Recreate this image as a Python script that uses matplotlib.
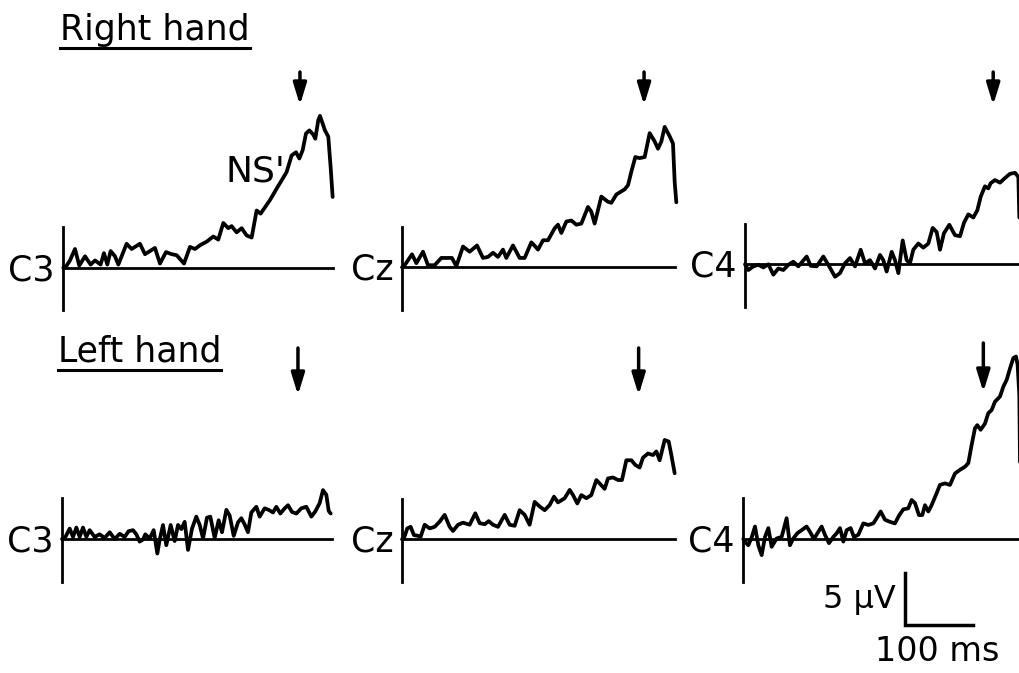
import matplotlib
matplotlib.use("Agg")
import matplotlib.pyplot as plt
from matplotlib import transforms
from matplotlib.lines import Line2D
from matplotlib.patches import ArrowStyle

# ---------------- data (time in ms from trace start, amplitude in uV, negativity up) ----------------
rh_c3_t = [0, 3.9, 9.8, 17.2, 23.5, 31.9, 40.2, 46.6, 54.9, 59.8, 64.7, 69.6, 76.0, 80.9, 93.1, 100.5,
           112.7, 120.1, 127.5, 134.8, 142.2, 151.0, 159.3, 166.7, 177.5, 186.3, 193.6, 202.0, 210.8,
           220.6, 227.9, 235.3, 242.6, 247.5, 254.9, 262.3, 269.6, 277.0, 284.3, 290.2, 303.9, 313.7,
           321.1, 328.4, 335.8, 342.2, 347.1, 352.0, 356.9, 361.8, 367.6, 370.6, 375.0, 377.5, 384.8,
           389.7, 393.1, 396.1]
rh_c3_v = [0, 0.1, 0.7, 1.8, 0.2, 1.1, 0.3, 0.7, 0.3, 1.4, 0.3, 1.6, 1.1, 0.3, 2.3, 1.8,
           2.3, 1.3, 1.6, 1.9, 0.4, 1.5, 1.3, 1.2, 0.4, 2.0, 1.8, 2.2, 2.5,
           3.0, 2.7, 4.3, 3.8, 4.0, 3.4, 3.8, 3.1, 2.9, 5.5, 5.2, 6.5, 7.6,
           8.4, 9.2, 10.8, 11.1, 10.5, 11.3, 12.9, 13.2, 12.8, 12.4, 14.2, 14.6, 13.2,
           12.6, 9.7, 6.8]

rh_cz_t = [0, 2.9, 14.7, 21.1, 30.9, 38.2, 48.0, 57.8, 67.6, 73.5, 79.9, 89.7, 99.5, 110.3, 119.1,
           126.5, 133.8, 141.2, 148.5, 153.4, 163.2, 173.0, 180.4, 190.2, 196.1, 200.0, 207.4, 214.7,
           224.5, 229.4, 234.3, 241.7, 249.0, 256.4, 263.7, 273.5, 278.4, 283.3, 293.1, 302.9, 307.8,
           315.2, 327.5, 332.4, 337.3, 343.1, 349.5, 356.9, 364.2, 371.6, 376.5, 381.4, 386.3, 393.6,
           398.5, 401.0, 403.4]
rh_cz_v = [0, 0.1, 1.25, 0.4, 1.5, 0.2, 0.2, 0.9, 0.9, 0.9, 0.1, 2.0, 1.5, 2.1, 0.9,
           1.0, 1.4, 1.0, 1.7, 0.9, 2.1, 0.9, 0.9, 2.4, 2.0, 1.7, 2.6, 2.6,
           3.75, 4.1, 3.3, 4.4, 4.5, 4.1, 4.2, 5.8, 5.35, 4.2, 6.8, 6.3, 6.2,
           7.0, 7.5, 7.9, 9.2, 10.6, 10.5, 10.6, 12.9, 12.1, 11.4, 12.1, 13.5, 12.6,
           11.9, 8.2, 6.25]

rh_c4_t = [0, 4.9, 12.3, 19.6, 27.0, 34.3, 41.7, 49.0, 56.4, 63.7, 71.1, 78.4, 90.7, 96.6, 105.4,
           115.2, 122.5, 132.4, 139.7, 147.1, 154.4, 161.8, 170.1, 176.5, 183.8, 191.2, 198.5, 203.4,
           208.3, 215.7, 220.6, 225.5, 231.9, 237.7, 242.6, 247.5, 254.9, 262.3, 269.6, 276.0, 281.9,
           286.8, 292.6, 300.5, 308.8, 316.2, 322.1, 328.4, 335.8, 341.7, 346.6, 352.9, 357.8, 361.3,
           367.6, 375.0, 382.4, 389.7, 397.1, 402.0, 403.4]
rh_c4_v = [0, -0.55, -0.2, -0.05, -0.3, 0.0, -1.0, -0.4, -0.55, -0.05, 0.25, -0.2, 0.75, -0.15, -0.2,
           0.75, -0.05, -1.2, -0.85, 0.1, 0.6, -0.2, 1.4, 0.1, 0.4, -0.4, 0.9, 0.4,
           -0.7, 1.2, 0.4, -0.85, 2.3, 0.4, 0.1, 1.4, 2.0, 1.6, 2.0, 3.5, 3.1,
           1.4, 3.0, 3.8, 2.8, 2.7, 4.0, 4.8, 4.5, 5.2, 6.5, 7.5, 7.3, 7.8,
           8.1, 7.85, 8.3, 8.7, 8.8, 8.4, 4.5]

lh_c3_t = [0, 3.9, 11.3, 16.2, 21.1, 26.0, 30.9, 35.8, 40.7, 48.0, 55.4, 62.7, 70.1, 77.5, 84.8, 92.2,
           98.0, 104.4, 109.3, 114.2, 119.1, 122.5, 128.9, 134.8, 140.2, 143.6, 148.5, 153.4, 159.8,
           165.7, 170.6, 175.5, 180.4, 185.3, 191.2, 197.5, 202.5, 207.4, 213.2, 218.1, 224.5, 230.4,
           235.3, 241.7, 246.6, 252.5, 258.8, 263.7, 268.6, 273.5, 278.4, 285.8, 290.7, 298.0, 303.9,
           310.3, 315.2, 321.1, 327.5, 332.4, 338.2, 344.6, 351.9, 359.3, 366.7, 372.5, 378.9, 383.8,
           388.7, 392.2, 395.1]
lh_c3_v = [0, 0.05, 1.0, 0.2, 1.1, 0.2, 1.1, 0.2, 0.85, 0.2, 0.45, 0.1, 0.65, 0.0, 0.5, 0.2,
           0.75, 0.85, 0.45, -0.25, -0.05, 0.45, 0.05, 0.85, -1.4, -0.1, 1.35, -0.6, 1.35,
           -0.2, 1.35, 0.95, 1.65, -1.05, 1.0, 2.15, 1.35, 0.05, 2.05, 2.15, 0.1, 1.8,
           0.65, 2.8, 2.25, 0.3, 1.6, 2.0, 1.4, 0.65, 2.55, 3.1, 2.15, 2.95, 2.8,
           2.55, 3.1, 2.45, 2.95, 3.25, 2.6, 2.45, 2.95, 3.1, 2.15, 2.65, 3.45, 4.7,
           4.25, 2.7, 2.45]

lh_cz_t = [0, 2.9, 7.8, 12.7, 17.6, 22.5, 27.5, 33.3, 40.7, 48.0, 55.4, 62.7, 70.1, 75.0, 82.4, 89.7,
           99.5, 107.8, 114.2, 121.6, 127.5, 133.8, 141.2, 151.0, 158.3, 165.7, 173.0, 180.4, 187.7,
           195.1, 202.5, 209.8, 217.2, 223.5, 229.4, 239.2, 246.6, 251.5, 257.8, 263.7, 271.1, 278.4,
           285.8, 293.1, 298.0, 302.9, 310.3, 317.6, 323.5, 329.9, 337.3, 343.1, 349.5, 354.4, 361.8,
           369.1, 374.0, 378.9, 386.3, 392.2, 396.1, 401.0]
lh_cz_v = [0, 0.1, 1.05, 1.2, 0.4, 0.35, 0.25, 1.4, 1.05, 1.2, 1.7, 2.35, 1.2, 0.8, 1.4, 1.6,
           1.4, 2.5, 1.55, 1.45, 1.75, 1.4, 1.2, 2.35, 1.4, 1.3, 2.8, 2.35, 1.4,
           3.6, 3.15, 2.8, 3.3, 4.1, 3.55, 3.95, 4.75, 4.25, 3.45, 4.25, 3.95, 4.25,
           5.7, 5.2, 4.85, 5.85, 5.95, 5.7, 5.7, 7.6, 7.6, 7.15, 6.9, 7.85, 8.25,
           8.1, 8.45, 7.6, 9.55, 9.4, 8.1, 6.35]

lh_c4_t = [0, 2.5, 7.4, 12.3, 17.2, 22.1, 27.0, 31.9, 36.8, 41.7, 49.0, 56.4, 63.7, 68.6, 73.5, 79.4,
           85.8, 93.1, 98.0, 103.9, 110.3, 115.2, 120.1, 126.0, 132.4, 137.3, 142.2, 147.1, 152.0,
           157.8, 162.7, 169.1, 176.5, 183.8, 191.2, 196.1, 202.0, 208.3, 215.7, 223.0, 229.4, 235.3,
           242.6, 247.5, 252.5, 258.3, 263.2, 267.2, 272.1, 276.9, 284.3, 289.2, 296.6, 303.9, 311.3,
           318.6, 326.0, 330.9, 335.8, 340.7, 344.1, 349.0, 355.4, 360.3, 365.2, 370.1, 377.5, 382.4,
           387.3, 392.2, 397.1, 401.0, 403.4, 405.9, 406.9]
lh_c4_v = [0, -0.25, -0.6, 0.15, 1.2, -0.6, -1.55, 0.2, 1.05, -0.75, 0.05, 0.2, 2.0, -0.6, 0.05, 0.55,
           0.85, 1.2, 0.7, 0.0, 0.7, 1.2, 0.4, -0.4, 0.2, 0.55, 1.05, -0.25, 0.85,
           1.05, 0.2, 0.4, 1.5, 1.35, 1.5, 2.0, 2.65, 1.85, 1.65, 1.5, 2.3, 2.85,
           2.95, 3.75, 3.45, 2.3, 2.3, 3.25, 2.65, 3.25, 4.4, 5.2, 5.35, 5.2, 6.3,
           6.65, 6.95, 7.3, 9.05, 10.65, 10.95, 10.5, 11.1, 12.1, 12.4, 13.2, 13.7, 14.65,
           15.3, 16.4, 17.4, 17.55, 16.75, 13.85, 7.4]

channels = ["C3", "Cz", "C4"]
conditions = ["Right hand", "Left hand"]
onset_ms = [[348, 356, 365], [347, 348, 353]]      # arrow (movement onset) per panel
baseline_end_ms = [[397, 401, 404], [397, 401, 407]]
traces = [[(rh_c3_t, rh_c3_v), (rh_cz_t, rh_cz_v), (rh_c4_t, rh_c4_v)],
          [(lh_c3_t, lh_c3_v), (lh_cz_t, lh_cz_v), (lh_c4_t, lh_c4_v)]]
scale_uv = 5
scale_ms = 100

# ---------------- layout ----------------
W, H = 1020, 673
PX_PER_MS = 0.68
PX_PER_UV = 10.4
origins = [[(63.3, 267.7), (402, 267.3), (745, 264.3)],
           [(62, 539), (402, 539.3), (743.3, 539)]]
arrow_px = [[(72, 105), (72, 105), (72, 105)],
            [(348, 395), (348, 395), (343, 392)]]
XL = (-20, 420)
YL = (-10, 20)
FONT = "DejaVu Sans"

fig = plt.figure(figsize=(W / 100, H / 100), dpi=100)
fig.patch.set_facecolor("white")

LW_TRACE = 2.7
LW_AXIS = 2.0

axes = []
for r in range(2):
    row = []
    for c in range(3):
        ox, oy = origins[r][c]
        left = (ox + XL[0] * PX_PER_MS) / W
        width = (XL[1] - XL[0]) * PX_PER_MS / W
        bottom = 1 - (oy - YL[0] * PX_PER_UV) / H
        height = (YL[1] - YL[0]) * PX_PER_UV / H
        ax = fig.add_axes([left, bottom, width, height])
        ax.set_xlim(*XL)
        ax.set_ylim(*YL)
        ax.set_axis_off()
        ax.patch.set_alpha(0)
        t, v = traces[r][c]
        ax.plot(t, v, color="black", lw=LW_TRACE, solid_joinstyle="round",
                solid_capstyle="round", clip_on=False)
        # baseline and vertical marker
        ax.plot([0, baseline_end_ms[r][c]], [0, 0], color="black", lw=LW_AXIS,
                clip_on=False)
        ax.plot([0, 0], [-4.1, 3.9], color="black", lw=LW_AXIS, clip_on=False)
        # channel label
        ax.text(-13, -0.25, channels[c], ha="right", va="center", fontsize=25,
                family=FONT, color="black")
        # movement onset arrow
        bt = transforms.blended_transform_factory(ax.transData, fig.transFigure)
        top_px, tip_px = arrow_px[r][c]
        ax.annotate("", xy=(onset_ms[r][c], 1 - tip_px / H),
                    xytext=(onset_ms[r][c], 1 - top_px / H),
                    xycoords=bt, textcoords=bt,
                    arrowprops=dict(arrowstyle=ArrowStyle("-|>", head_length=0.65,
                                                          head_width=0.2),
                                    mutation_scale=20, lw=2.5, color="black",
                                    shrinkA=0, shrinkB=0))
        row.append(ax)
    axes.append(row)

# NS' label on top C3
axes[0][0].text(226 / PX_PER_MS - 63.3 / PX_PER_MS, (267.7 - 181) / PX_PER_UV, "NS'",
                ha="left", va="baseline", fontsize=26, family=FONT)

# condition titles with underline
title_pos = [(60, 40), (58, 362)]
fig.canvas.draw()
renderer = fig.canvas.get_renderer()
for (x, y), label in zip(title_pos, conditions):
    txt = fig.text(x / W, 1 - y / H, label, ha="left", va="baseline",
                   fontsize=25, family=FONT)
    bb = txt.get_window_extent(renderer=renderer)
    uy = 1 - (y + 8) / H
    fig.add_artist(Line2D([bb.x0 / W, bb.x1 / W], [uy, uy], color="black", lw=2.2,
                          transform=fig.transFigure))

# scale bar in bottom C4 panel
axs = axes[1][2]
sx0 = 237.8
sy0 = -8.27
axs.plot([sx0, sx0, sx0 + scale_ms], [sy0 + scale_uv, sy0, sy0], color="black",
         lw=2.5, solid_joinstyle="miter", clip_on=False)
axs.text(sx0 - 14, sy0 + scale_uv * 0.5, f"{scale_uv} \u00b5V", ha="right", va="center",
         fontsize=23, family=FONT)
axs.text(sx0 + 47, sy0 - 2.5, f"{scale_ms} ms", ha="center", va="center",
         fontsize=24, family=FONT)

fig.savefig("out.png", dpi=100, facecolor="white")
